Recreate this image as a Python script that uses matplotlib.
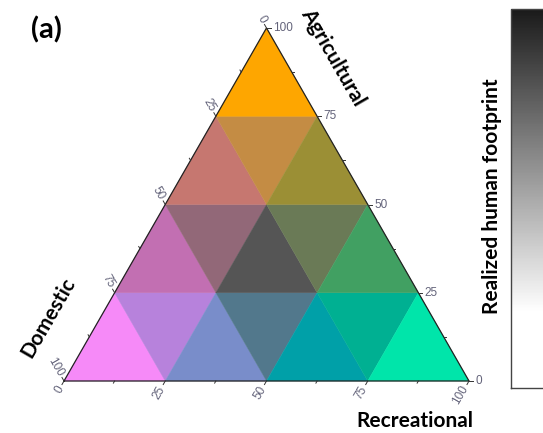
#!/usr/bin/env python3
"""Ternary colour-key plot (Agricultural / Recreational / Domestic) with a grey colour bar."""

import numpy as np
import matplotlib
matplotlib.use('Agg')
import matplotlib.pyplot as plt
from matplotlib.patches import Polygon
from matplotlib.colors import LinearSegmentedColormap, Normalize
from matplotlib.colorbar import ColorbarBase

OUTPUT_PATH = 'out.png'

# 25 % steps on each side -> 4 divisions, 16 cells
N_DIV = 4

# cell colours per row (row 0 = bottom), left to right, alternating up/down triangles
ROW0_COLORS = ['#F68AF8', '#B782DC', '#798DCA', '#52788C', '#00A0A8', '#00B092', '#00E5AA']
ROW1_COLORS = ['#C26FB2', '#926878', '#555555', '#6A7A56', '#41A062']
ROW2_COLORS = ['#C67770', '#C48C44', '#9B8F35']
ROW3_COLORS = ['#FEA600']

MAJOR_TICKS = [0, 25, 50, 75, 100]
MINOR_TICKS = [12.5, 37.5, 62.5, 87.5]

AXIS_NAMES = ['Agricultural', 'Recreational', 'Domestic']
CBAR_LABEL = 'Realized human footprint'

TICK_COLOR = '#63637a'
H = np.sqrt(3) / 2


def tern(a, r):
    """agricultural / recreational fractions -> cartesian."""
    return (r + a / 2.0, a * H)


def grid_pt(i, j):
    return tern(i / N_DIV, j / N_DIV)


def main():
    fig = plt.figure(figsize=(5.43, 4.33), dpi=100)
    ax = fig.add_axes([64 / 543, 52 / 433, 405 / 543, 353 / 433])
    ax.set_xlim(0, 1)
    ax.set_ylim(0, H)
    ax.axis('off')

    rows = [ROW0_COLORS, ROW1_COLORS, ROW2_COLORS, ROW3_COLORS]
    for k, colors in enumerate(rows):
        for idx, col in enumerate(colors):
            j = idx // 2
            if idx % 2 == 0:
                pts = [grid_pt(k, j), grid_pt(k, j + 1), grid_pt(k + 1, j)]
            else:
                pts = [grid_pt(k, j + 1), grid_pt(k + 1, j), grid_pt(k + 1, j + 1)]
            ax.add_patch(Polygon(pts, closed=True, facecolor=col, edgecolor=col,
                                 linewidth=0.3, clip_on=False))

    # outline
    corners = [tern(0, 0), tern(0, 1), tern(1, 0), tern(0, 0)]
    ax.plot([c[0] for c in corners], [c[1] for c in corners],
            color='#222222', lw=0.9, clip_on=False, solid_joinstyle='miter')

    d_bot = np.array([-0.5, -H])   # recreational ticks
    d_right = np.array([1.0, 0.0])  # agricultural ticks
    d_left = np.array([-0.5, H])   # domestic ticks
    tl = 0.010
    off = 0.016
    font_ticks = dict(fontsize=8.5, color=TICK_COLOR, family=['Liberation Sans', 'DejaVu Sans'])

    def tick(p, d, length):
        q = np.array(p) + d * length
        ax.plot([p[0], q[0]], [p[1], q[1]], color='#333333', lw=0.7, clip_on=False)

    for v in MAJOR_TICKS + MINOR_TICKS:
        f = v / 100.0
        ln = tl if v in MAJOR_TICKS else tl * 0.6
        tick(tern(0, f), d_bot, ln)
        tick(tern(f, 1 - f), d_right, ln)
        tick(tern(1 - f, 0), d_left, ln)

    for v in MAJOR_TICKS:
        f = v / 100.0
        p = np.array(tern(0, f)) + d_bot * off
        ax.text(p[0], p[1], f'{v}', rotation=60, rotation_mode='anchor',
                ha='right', va='center', **font_ticks)
        p = np.array(tern(f, 1 - f)) + d_right * off
        ax.text(p[0], p[1], f'{v}', ha='left', va='center', **font_ticks)
        p = np.array(tern(1 - f, 0)) + d_left * off
        ax.text(p[0], p[1], f'{v}', rotation=-60, rotation_mode='anchor',
                ha='right', va='center', **font_ticks)

    font_title = dict(fontsize=15, fontweight='bold', color='black',
                      family=['Lato', 'DejaVu Sans'])
    fig.text(333 / 543, 1 - 57 / 433, AXIS_NAMES[0], rotation=-60,
             ha='center', va='center', **font_title)
    fig.text(415 / 543, 1 - 421 / 433, AXIS_NAMES[1],
             ha='center', va='center', **font_title)
    fig.text(48 / 543, 1 - 318 / 433, AXIS_NAMES[2], rotation=60,
             ha='center', va='center', **font_title)
    fig.text(46 / 543, 1 - 30 / 433, '(a)', fontsize=21, fontweight='bold',
             ha='center', va='center', family=['Lato', 'DejaVu Sans'])

    # colour bar, cut by the figure edge as in the source
    cmap = LinearSegmentedColormap.from_list(
        'footprint', [(0.0, '#ffffff'), (0.2, '#ffffff'), (1.0, '#1a1a1a')])
    cax = fig.add_axes([511 / 543, 1 - 388 / 433, 0.08, 379 / 433])
    cb = ColorbarBase(cax, cmap=cmap, norm=Normalize(0, 1), orientation='vertical')
    cb.set_ticks([])
    cb.outline.set_edgecolor('#444444')
    cb.outline.set_linewidth(1.0)
    fig.text(492 / 543, 1 - 196 / 433, CBAR_LABEL, rotation=90,
             ha='center', va='center', **font_title)

    fig.savefig(OUTPUT_PATH, dpi=100)
    plt.close(fig)


if __name__ == '__main__':
    main()
